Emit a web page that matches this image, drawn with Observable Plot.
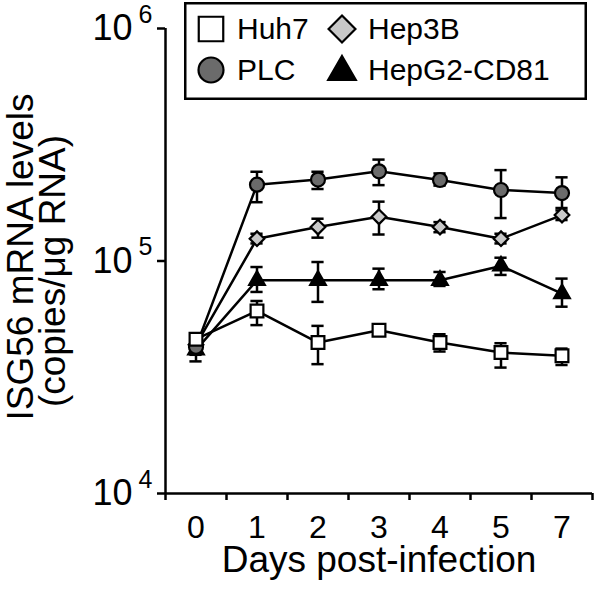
<!DOCTYPE html>
<html><head><meta charset="utf-8">
<script src="https://cdn.jsdelivr.net/npm/d3@7"></script>
<script src="https://cdn.jsdelivr.net/npm/@observablehq/plot@0.6"></script>
<style>
body{margin:0;background:#fff;font-family:"Liberation Sans",Arial,sans-serif;}
#wrap{position:relative;width:600px;height:590px;}
#legend{position:absolute;left:184px;top:2px;width:403px;height:98px;}
</style></head><body><div id="wrap"></div>
<script>
// Categories (days post-infection)
const days = ["0", "1", "2", "3", "4", "5", "7"];
const yTicks = [1e4, 1e5, 1e6];

// Series values (copies/µg RNA) with error bar bounds
const huh7   = [46100, 61000, 44600, 50400, 44600, 40400, 39100];
const huh7Lo = [44500, 53000, 36000, 49000, 40800, 34800, 35700];
const huh7Hi = [48000, 67300, 52600, 51800, 48400, 44300, 42000];

const plc   = [42700, 213000, 224000, 243000, 223000, 202000, 196000];
const plcLo = [39500, 179000, 204000, 212000, 211000, 153000, 169000];
const plcHi = [45500, 242000, 242000, 273000, 238000, 246000, 229000];

const hep3b   = [43600, 124700, 140000, 155000, 140000, 124700, 157600];
const hep3bLo = [40500, 119000, 126000, 130000, 133000, 119000, 150000];
const hep3bHi = [46500, 131000, 152000, 180000, 147000, 131000, 165000];

const hepg2   = [41500, 82600, 82600, 82600, 82600, 95200, 72400];
const hepg2Lo = [37000, 73600, 66700, 75600, 78100, 87100, 63600];
const hepg2Hi = [45000, 94200, 99000, 92700, 89700, 103300, 84000];

const series = [
  {name: "Huh7", values: huh7, lo: huh7Lo, hi: huh7Hi, symbol: "square", r: 7.2, fill: "#ffffff"},
  {name: "PLC", values: plc, lo: plcLo, hi: plcHi, symbol: "circle", r: 7, fill: "#6b6b6b"},
  {name: "Hep3B", values: hep3b, lo: hep3bLo, hi: hep3bHi, symbol: "diamond2", r: 6.6, fill: "#c8c8c8"},
  {name: "HepG2-CD81", values: hepg2, lo: hepg2Lo, hi: hepg2Hi, symbol: "triangle", r: 5.8, fill: "#000000"}
];

const rows = [];
series.forEach(s => s.values.forEach((v, i) => rows.push({name: s.name, i, v, lo: s.lo[i], hi: s.hi[i]})));

const edges = d3.range(days.length + 1).map(k => k - 0.5);
const capHalf = 0.1;

const dotMarks = [];
for (const s of [...series].reverse()) {
  dotMarks.push(Plot.dot(rows.filter(d => d.name === s.name), {
    x: "i", y: "v", symbol: s.symbol, r: s.r, fill: s.fill, stroke: "#000", strokeWidth: 2.2
  }));
}

const chart = Plot.plot({
  width: 600, height: 590,
  marginLeft: 165, marginRight: 8, marginTop: 28, marginBottom: 97,
  style: {fontFamily: "'Liberation Sans', Arial, sans-serif", color: "#000", background: "transparent", overflow: "visible"},
  x: {type: "linear", domain: [-0.5, days.length - 0.5], axis: null, label: null},
  y: {type: "log", domain: [1e4, 1e6], axis: null, label: null},
  marks: [
    Plot.ruleY([1e4], {strokeWidth: 2.5}),
    Plot.ruleX([-0.5], {y1: 1e4, y2: 1e6, strokeWidth: 2.5}),
    Plot.axisY({ticks: yTicks, tickSize: 8, tickFormat: () => "", strokeWidth: 2.5, label: null}),
    Plot.axisX({ticks: edges, tickSize: 7, tickFormat: () => "", strokeWidth: 2.5, label: null}),
    Plot.axisX({ticks: d3.range(days.length), tickSize: 0, tickPadding: 22, tickFormat: i => days[i], fontSize: 32, label: null}),
    Plot.text(yTicks, {y: d => d, frameAnchor: "left", text: () => "10", textAnchor: "end", dx: -33, fontSize: 36}),
    Plot.text(yTicks, {y: d => d, frameAnchor: "left", text: d => String(Math.round(Math.log10(d))), textAnchor: "end", dx: -13, dy: -14, fontSize: 25}),
    Plot.text(["Days post-infection"], {frameAnchor: "bottom", textAnchor: "middle", lineAnchor: "middle", dy: 67, fontSize: 37}),
    Plot.text(["ISG56 mRNA levels"], {frameAnchor: "left", textAnchor: "middle", lineAnchor: "middle", rotate: -90, dx: -144, dy: -4, fontSize: 37}),
    Plot.text(["(copies/\u03bcg RNA)"], {frameAnchor: "left", textAnchor: "middle", lineAnchor: "middle", rotate: -90, dx: -112, dy: 10, fontSize: 37}),
    Plot.line(rows, {x: "i", y: "v", z: "name", stroke: "#000", strokeWidth: 2.5}),
    Plot.ruleX(rows, {x: "i", y1: "lo", y2: "hi", strokeWidth: 2.5}),
    Plot.ruleY(rows, {x1: d => d.i - capHalf, x2: d => d.i + capHalf, y: "hi", strokeWidth: 2.5}),
    Plot.ruleY(rows, {x1: d => d.i - capHalf, x2: d => d.i + capHalf, y: "lo", strokeWidth: 2.5}),
    ...dotMarks
  ]
});

const wrap = document.getElementById("wrap");
wrap.appendChild(chart);

// Legend box
const legendDiv = document.createElement("div");
legendDiv.id = "legend";
wrap.appendChild(legendDiv);
const lsvg = d3.select(legendDiv).append("svg").attr("width", 403).attr("height", 98)
  .style("font-family", "'Liberation Sans', Arial, sans-serif");
lsvg.append("rect").attr("x", 1.25).attr("y", 1.25).attr("width", 400.5).attr("height", 95.5)
  .attr("fill", "#fff").attr("stroke", "#000").attr("stroke-width", 2.5);
const legendLayout = [
  {col: 0, row: 0, size: 600}, // Huh7
  {col: 0, row: 1, size: 490}, // PLC
  {col: 1, row: 0, size: 460}, // Hep3B
  {col: 1, row: 1, size: 330}  // HepG2-CD81
];
const symMap = {square: d3.symbolSquare, circle: d3.symbolCircle, diamond2: d3.symbolDiamond2, triangle: d3.symbolTriangle};
series.forEach((s, k) => {
  const L = legendLayout[k];
  const cx = L.col === 0 ? 27 : 158;
  const cy = L.row === 0 ? 27 : 68;
  lsvg.append("path").attr("transform", `translate(${cx},${cy + (s.symbol === "triangle" ? 2 : 0)})`)
    .attr("d", d3.symbol(symMap[s.symbol], L.size)())
    .attr("fill", s.fill).attr("stroke", "#000").attr("stroke-width", 2.2);
  lsvg.append("text").attr("x", L.col === 0 ? 53 : 184).attr("y", L.row === 0 ? 37 : 78)
    .attr("font-size", 30).text(s.name);
});
</script>
</body></html>
